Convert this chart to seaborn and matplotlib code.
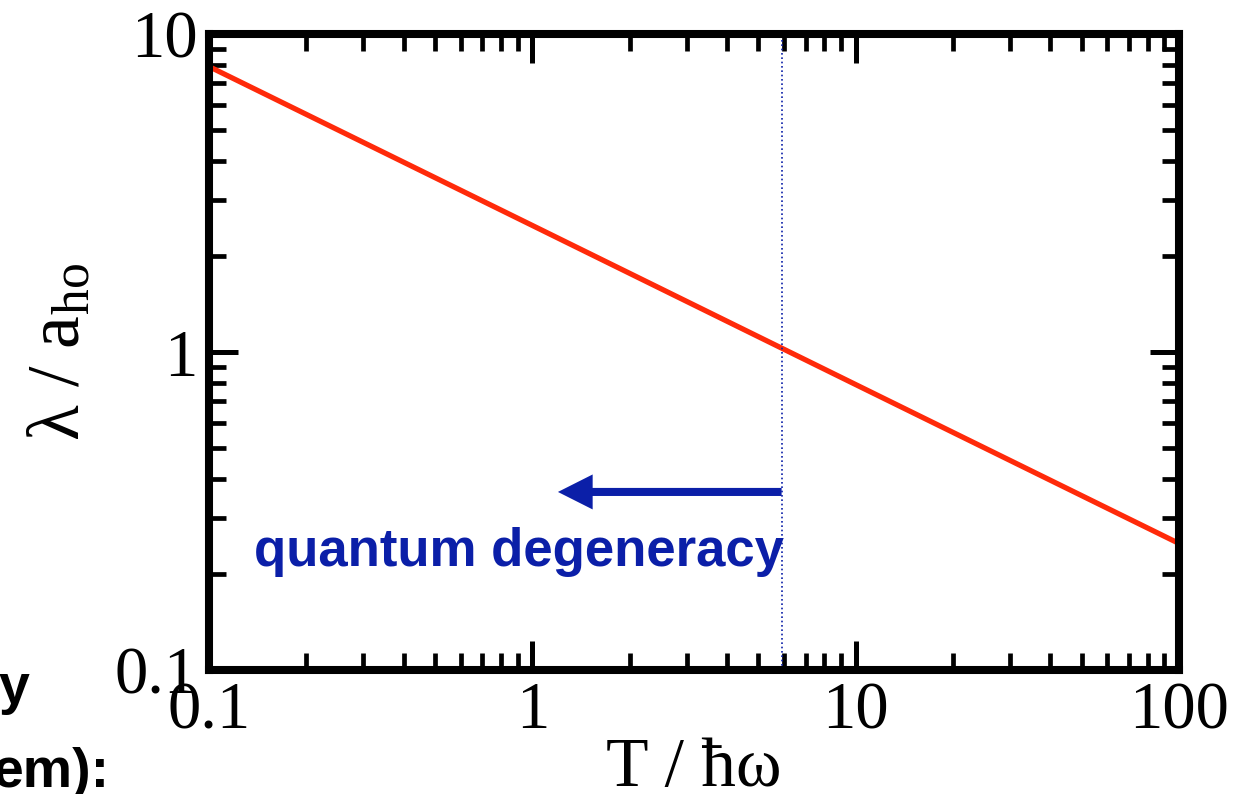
import matplotlib
matplotlib.use("Agg")
import matplotlib.pyplot as plt
import seaborn as sns
import pandas as pd

# data
T_values = [0.1, 1, 10, 100]
lam_values = [7.9, 2.5, 0.79, 0.25]
degeneracy_T = 5.9
arrow_start_T = 5.9
arrow_end_T = 1.2
arrow_y = 0.363
x_ticks = [0.1, 1, 10, 100]
x_ticklabels = ["0.1", "1", "10", "100"]
y_ticks = [0.1, 1, 10]
y_ticklabels = ["0.1", "1", "10"]

sns.set_theme(style="ticks")
plt.rcParams["font.family"] = ["Liberation Serif", "DejaVu Serif"]
plt.rcParams["mathtext.fontset"] = "custom"
plt.rcParams["mathtext.rm"] = "Liberation Serif"
plt.rcParams["mathtext.it"] = "Liberation Serif:italic"
for k in ["text.color", "axes.labelcolor", "xtick.color", "ytick.color",
          "xtick.labelcolor", "ytick.labelcolor"]:
    plt.rcParams[k] = "black"

RED = "#ff2a0a"
BLUE = "#0b1fa8"

fig = plt.figure(figsize=(12.52, 7.94), dpi=100)
ax = fig.add_axes([209 / 1252, 1 - 670 / 794, 970 / 1252, 636 / 794])

df = pd.DataFrame({"T": T_values, "lam": lam_values})
sns.lineplot(data=df, x="T", y="lam", ax=ax, color=RED, lw=3.8)

ax.set_xscale("log")
ax.set_yscale("log")
ax.set_xlim(0.1, 100)
ax.set_ylim(0.1, 10)

ax.axvline(degeneracy_T, color=BLUE, lw=1.2, ls=(0, (1, 1.6)))

ax.annotate("", xy=(arrow_end_T, arrow_y), xytext=(arrow_start_T, arrow_y),
            arrowprops=dict(arrowstyle="simple,head_length=1.25,head_width=1.26,tail_width=0.29",
                            mutation_scale=20, color=BLUE, lw=0, shrinkA=0, shrinkB=0))

ax.text(0.32, 0.186, "quantum degeneracy", transform=ax.transAxes,
        ha="center", va="center", fontsize=38, fontweight="bold",
        color=BLUE, family="Liberation Sans")

ax.set_xticks(x_ticks)
ax.set_xticklabels(x_ticklabels)
ax.set_yticks(y_ticks)
ax.set_yticklabels(y_ticklabels)

for s in ax.spines.values():
    s.set_visible(True)
    s.set_linewidth(5.8)
    s.set_color("black")

ax.tick_params(which="both", direction="in", top=True, right=True, color="black",
               labelcolor="black")
ax.tick_params(which="major", length=21, width=3.6, labelsize=48, pad=8)
ax.tick_params(which="minor", length=12, width=3.4)

ax.set_xlabel("T / ħω", fontsize=50, labelpad=-3, color="black")
ax.set_ylabel("λ / a$_{\\mathrm{ho}}$", fontsize=53, labelpad=14, color="black")

# cropped slide text at left edge
fig.text(29 / 1252, 1 - 703 / 794, "y", ha="right", va="baseline",
         fontsize=40, fontweight="bold", family="Liberation Sans", color="black")
fig.text(110 / 1252, 1 - 787 / 794, "em):", ha="right", va="baseline",
         fontsize=40, fontweight="bold", family="Liberation Sans", color="black")

fig.savefig("out.png", dpi=100)
